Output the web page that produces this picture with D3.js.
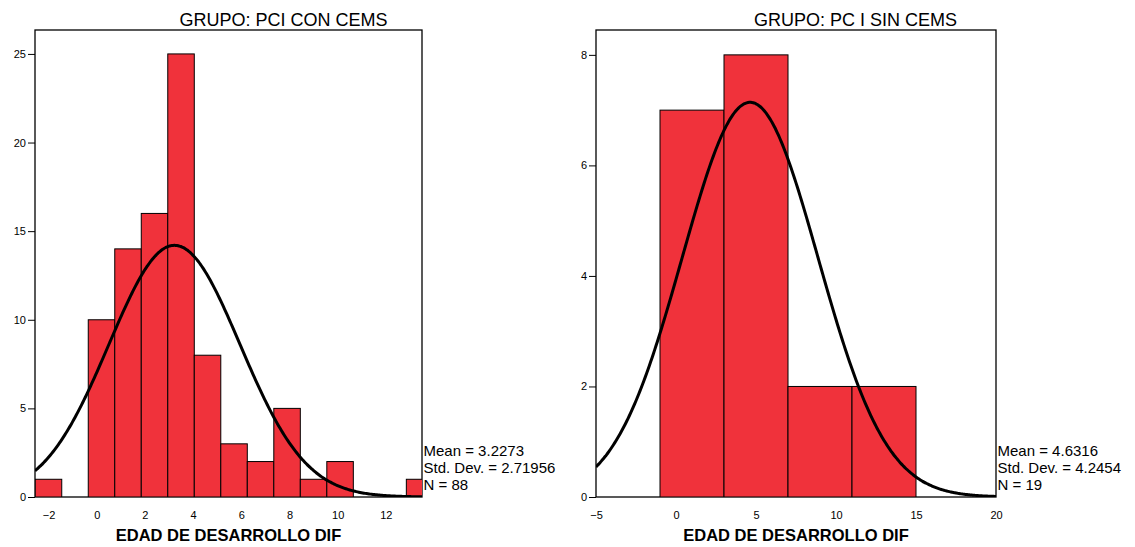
<!DOCTYPE html>
<html>
<head>
<meta charset="utf-8">
<script src="https://cdn.jsdelivr.net/npm/d3@7"></script>
<style>
  body { margin: 0; background: #fff; }
  svg text { font-family: Arial, "Liberation Sans", sans-serif; fill: #000; }
</style>
</head>
<body>
<div id="chart"></div>
<script>
// data
const leftTitle = "GRUPO: PCI CON CEMS";
const leftBinStart = [-2.55, -1.45, -0.35, 0.75, 1.85, 2.95, 4.05, 5.15, 6.25, 7.35, 8.45, 9.55, 10.65, 11.75, 12.85];
const leftCounts   = [1, 0, 10, 14, 16, 25, 8, 3, 2, 5, 1, 2, 0, 0, 1];
const leftBinWidth = 1.1;
const leftXTicks = [-2, 0, 2, 4, 6, 8, 10, 12];
const leftYTicks = [0, 5, 10, 15, 20, 25];
const leftStats = { mean: 3.2273, sd: 2.71956, n: 88, sdLabel: "2.71956" };

const rightTitle = "GRUPO: PC I SIN CEMS";
const rightBinStart = [-1, 3, 7, 11];
const rightCounts   = [7, 8, 2, 2];
const rightBinWidth = 4;
const rightXTicks = [-5, 0, 5, 10, 15, 20];
const rightYTicks = [0, 2, 4, 6, 8];
const rightStats = { mean: 4.6316, sd: 4.2454, n: 19, sdLabel: "4.2454" };

const xLabel = "EDAD DE DESARROLLO DIF";

const svg = d3.select("#chart").append("svg")
    .attr("width", 1135)
    .attr("height", 547);

function panel(opt) {
  const x = d3.scaleLinear().domain(opt.xDomain).range([opt.left, opt.right]);
  const y = d3.scaleLinear().domain(opt.yDomain).range([opt.bottom, opt.top]);
  const g = svg.append("g");
  const clipId = "clip" + opt.id;

  g.append("clipPath").attr("id", clipId)
    .append("rect")
      .attr("x", opt.left).attr("y", opt.top)
      .attr("width", opt.right - opt.left).attr("height", opt.bottom - opt.top);

  // frame
  g.append("rect")
    .attr("x", opt.left).attr("y", opt.top)
    .attr("width", opt.right - opt.left).attr("height", opt.bottom - opt.top)
    .attr("fill", "none").attr("stroke", "#000").attr("stroke-width", 1.3);

  const bins = opt.starts.map((s, i) => ({ x0: s, x1: s + opt.width, n: opt.counts[i] }))
    .filter(d => d.n > 0);

  g.append("g").attr("clip-path", `url(#${clipId})`)
    .selectAll("rect")
    .data(bins)
    .join("rect")
      .attr("x", d => x(d.x0))
      .attr("y", d => y(d.n))
      .attr("width", d => x(d.x1) - x(d.x0))
      .attr("height", d => y(0) - y(d.n))
      .attr("fill", "#f0323b")
      .attr("stroke", "#000")
      .attr("stroke-width", 1);

  // fitted normal curve
  const s = opt.stats;
  const k = s.n * opt.width / (s.sd * Math.sqrt(2 * Math.PI));
  const pts = d3.range(opt.xDomain[0], opt.xDomain[1] + 0.001, (opt.xDomain[1] - opt.xDomain[0]) / 300)
    .map(v => [v, k * Math.exp(-0.5 * Math.pow((v - s.mean) / s.sd, 2))]);
  g.append("path")
    .datum(pts)
    .attr("clip-path", `url(#${clipId})`)
    .attr("fill", "none")
    .attr("stroke", "#000")
    .attr("stroke-width", 3)
    .attr("d", d3.line().x(d => x(d[0])).y(d => y(d[1])).curve(d3.curveBasis));

  // y axis
  const ya = g.append("g")
    .attr("transform", `translate(${opt.left},0)`)
    .call(d3.axisLeft(y).tickValues(opt.yTicks).tickSize(7).tickPadding(2).tickFormat(d3.format("d")));
  ya.select(".domain").remove();
  ya.selectAll("line").attr("stroke", "#000");
  ya.selectAll("text").style("font-size", "11px");

  // x axis (labels only)
  const xa = g.append("g")
    .attr("transform", `translate(0,${opt.bottom})`)
    .call(d3.axisBottom(x).tickValues(opt.xTicks).tickSize(0).tickPadding(14).tickFormat(d3.format("d")));
  xa.select(".domain").remove();
  xa.selectAll("text").style("font-size", "11px");

  g.append("text")
    .attr("x", opt.titleX).attr("y", 26)
    .attr("text-anchor", "middle")
    .style("font-size", "18px")
    .text(opt.title);

  g.append("text")
    .attr("x", (opt.left + opt.right) / 2).attr("y", 541)
    .attr("text-anchor", "middle")
    .style("font-size", "16.5px").style("font-weight", "bold")
    .text(xLabel);

  const lines = ["Mean = " + s.mean, "Std. Dev. = " + s.sdLabel, "N = " + s.n];
  g.append("g").selectAll("text")
    .data(lines)
    .join("text")
      .attr("x", opt.right + 1.5)
      .attr("y", (d, i) => 456 + i * 17)
      .style("font-size", "15px")
      .text(d => d);
}

panel({
  id: "L", left: 35, right: 422, top: 30, bottom: 497,
  xDomain: [-2.56, 13.5], yDomain: [0, 26.35],
  starts: leftBinStart, counts: leftCounts, width: leftBinWidth,
  xTicks: leftXTicks, yTicks: leftYTicks, stats: leftStats,
  title: leftTitle, titleX: 283.5
});

panel({
  id: "R", left: 596, right: 996, top: 30, bottom: 497,
  xDomain: [-5, 20], yDomain: [0, 8.45],
  starts: rightBinStart, counts: rightCounts, width: rightBinWidth,
  xTicks: rightXTicks, yTicks: rightYTicks, stats: rightStats,
  title: rightTitle, titleX: 855.5
});
</script>
</body>
</html>
